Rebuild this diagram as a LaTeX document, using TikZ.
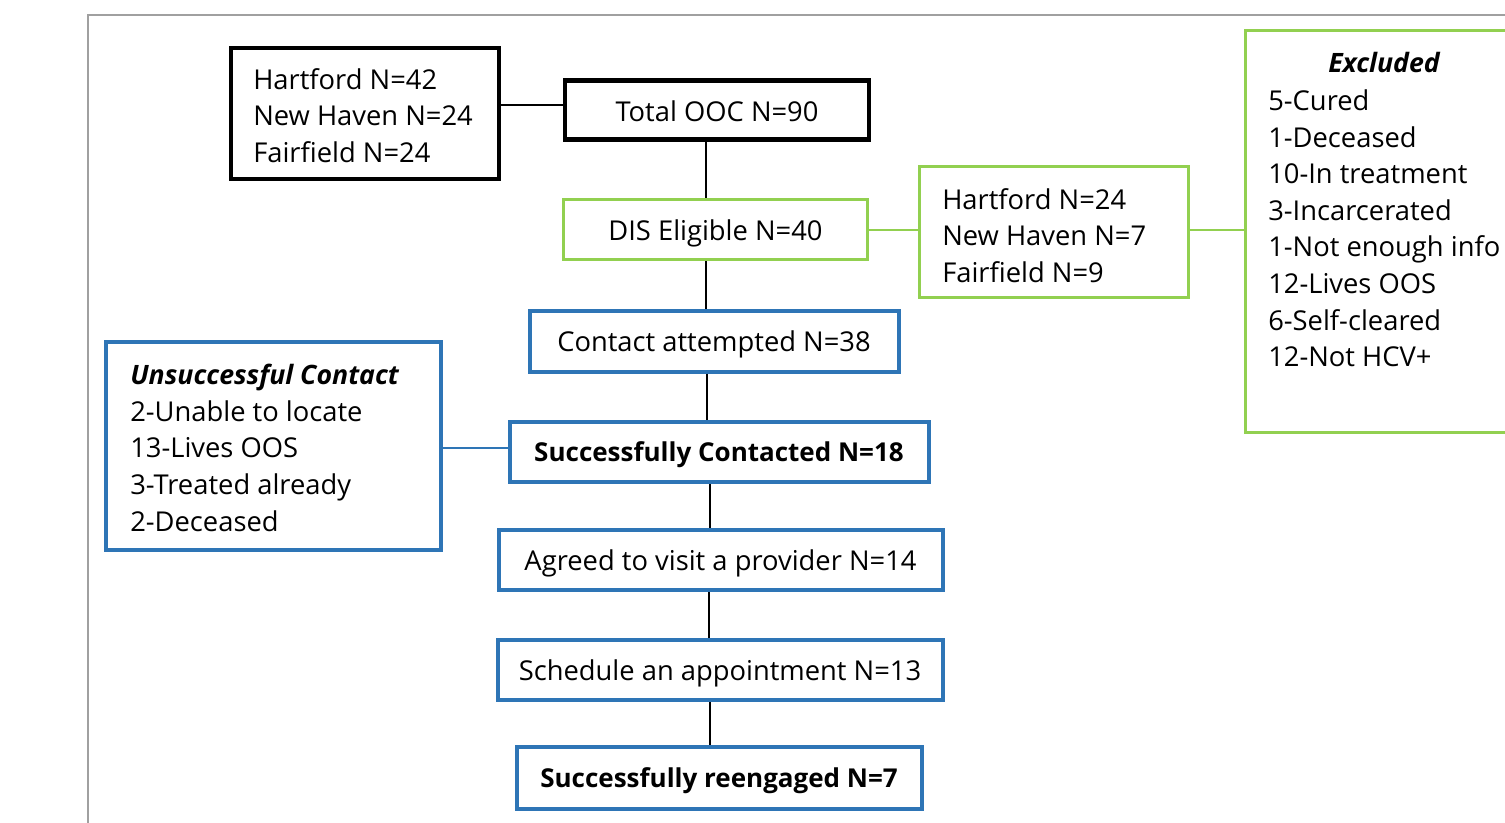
\documentclass[tikz,border=0pt]{standalone}
\usepackage{fontspec}
\setmainfont{Open Sans}
\definecolor{obue}{HTML}{2E75B6}
\definecolor{ogreen}{HTML}{92D050}
\definecolor{framegray}{HTML}{A0A0A0}
\newcommand{\regf}{\fontsize{20.5pt}{27.45pt}\selectfont}
\newcommand{\boldf}{\fontsize{19.5pt}{27.45pt}\selectfont\bfseries}
\newcommand{\bif}{\fontsize{20pt}{27.45pt}\selectfont\bfseries\itshape}
\begin{document}
\begin{tikzpicture}[x=0.75pt,y=-0.75pt,
  bx/.style 2 args={draw,rectangle,minimum width=#1*0.75pt,minimum height=#2*0.75pt,inner sep=0pt},
  blk/.style={line width=3.2pt,draw=black},
  grn/.style={line width=2.9pt,draw=ogreen},
  blu/.style={line width=3pt,draw=obue},
  txt/.style={inner sep=0pt,font=\regf},
  btxt/.style={inner sep=0pt,font=\boldf},
  lbox/.style={align=left,anchor=north west,inner sep=0pt,font=\regf},
  conn/.style={line width=1.4pt,draw=black},
  gconn/.style={line width=1.7pt,draw=ogreen},
  bconn/.style={line width=1.5pt,draw=obue}
]
\useasboundingbox (0,0) rectangle (1505,823);
\fill[white] (0,0) rectangle (1505,823);
% frame
\draw[framegray,line width=1pt] (88,823) -- (88,15) -- (1505,15);

% boxes
\node[bx={268}{131},blk] (hart) at (365,113.5) {};
\node[lbox] (hartt) at (253,68) {Hartford N=42\\New Haven N=24\\Fairfield N=24};
\node[bx={304}{59},blk] (ooc) at (717,110) {};
\node[txt] (ooct) at ([yshift=-1pt]ooc.center) {Total OOC N=90};
\node[bx={304}{60},grn] (dis) at (715.5,229.5) {};
\node[txt] (dist) at ([yshift=-2.8pt]dis.center) {DIS Eligible N=40};
\node[bx={269}{131},grn] (hart2) at (1054,232) {};
\node[lbox] (hart2t) at (942,188) {Hartford N=24\\New Haven N=7\\Fairfield N=9};
\node[bx={280}{402},grn] (excl) at (1385.5,231.5) {};
\node[font=\bif] (exclh) at (1384,63) {Excluded};
\node[lbox] (exclt) at (1268,89.5) {5-Cured\\1-Deceased\\10-In treatment\\3-Incarcerated\\1-Not enough info\\12-Lives OOS\\6-Self-cleared\\12-Not HCV+};
\node[bx={369}{60},blu] (cont) at (714,341.5) {};
\node[txt] (contt) at ([yshift=-2.5pt]cont.center) {Contact attempted N=38};
\node[bx={419}{60},blu] (succ) at (719,452) {};
\node[btxt] (succt) at ([yshift=-2.2pt]succ.center) {Successfully Contacted N=18};
\node[bx={335}{207},blu] (uns) at (273,446) {};
\node[lbox] (unst) at (130,364) {{\bif Unsuccessful Contact}\\2-Unable to locate\\13-Lives OOS\\3-Treated already\\2-Deceased};
\node[bx={444}{60},blu] (agr) at (720.5,560) {};
\node[txt] (agrt) at ([yshift=-2.5pt]agr.center) {Agreed to visit a provider N=14};
\node[bx={445}{60},blu] (sch) at (720,670) {};
\node[txt] (scht) at ([yshift=-2.2pt]sch.center) {Schedule an appointment N=13};
\node[bx={405}{62},blu] (reen) at (719,778) {};
\node[btxt] (reent) at ([yshift=-2.2pt]reen.center) {Successfully reengaged N=7};

% connector columns
\coordinate (c1) at (706,0);
\coordinate (c2) at (707,0);
\coordinate (c3) at (710,0);
\coordinate (c4) at (709,0);
\coordinate (r1) at (0,105);
\coordinate (r2) at (0,230);
\coordinate (r3) at (0,447.5);

% connectors
\draw[conn] (hart.east |- r1) -- (ooc.west |- r1);
\draw[conn] (ooc.south -| c1) -- (dis.north -| c1);
\draw[gconn] (dis.east |- r2) -- (hart2.west |- r2);
\draw[gconn] (hart2.east |- r2) -- (excl.west |- r2);
\draw[conn] (dis.south -| c1) -- (cont.north -| c1);
\draw[conn] (cont.south -| c2) -- (succ.north -| c2);
\draw[bconn] (uns.east |- r3) -- (succ.west |- r3);
\draw[conn] (succ.south -| c3) -- (agr.north -| c3);
\draw[conn] (agr.south -| c4) -- (sch.north -| c4);
\draw[conn] (sch.south -| c3) -- (reen.north -| c3);
\end{tikzpicture}
\end{document}
